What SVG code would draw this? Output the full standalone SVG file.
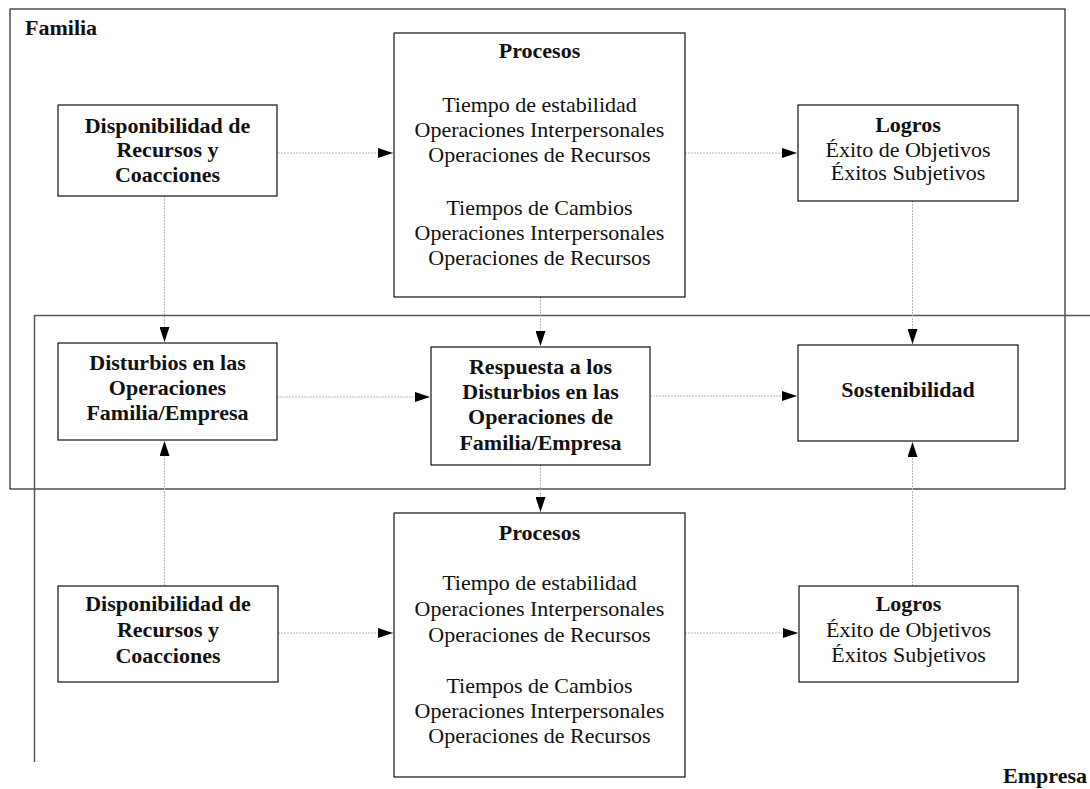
<svg xmlns="http://www.w3.org/2000/svg" width="1090" height="789" viewBox="0 0 1090 789">
  <style>
    .node rect { fill: #ffffff; stroke: #111111; stroke-width: 1.2; }
    .b { font-family: "Liberation Serif", "DejaVu Serif", serif; font-weight: bold; font-size: 22px; fill: #111111; text-anchor: middle; }
    .r { font-family: "Liberation Serif", "DejaVu Serif", serif; font-size: 22px; fill: #111111; text-anchor: middle; }
    .lbl { font-family: "Liberation Serif", "DejaVu Serif", serif; font-weight: bold; font-size: 22px; fill: #111111; }
    .conn line { stroke: #b8b8b8; stroke-width: 1; stroke-dasharray: 2 1; marker-end: url(#head); }
    .frame { fill: none; stroke: #222222; stroke-width: 1.2; }
    .frame2 { fill: none; stroke: #555555; stroke-width: 1.5; }
  </style>
  <defs>
    <marker id="head" viewBox="0 0 15 10" refX="15" refY="5" markerWidth="15" markerHeight="10" markerUnits="userSpaceOnUse" orient="auto">
      <path d="M0,0 L15,5 L0,10 Z" fill="#000000"/>
    </marker>
  </defs>
  <rect width="1090" height="789" fill="#ffffff"/>

  <!-- outer frames -->
  <g id="frame-familia">
    <rect class="frame" x="10" y="9" width="1055" height="480"/>
    <text class="lbl" x="25" y="35">Familia</text>
  </g>
  <g id="frame-empresa">
    <polyline class="frame2" points="1090,315.5 34.5,315.5 34.5,762"/>
    <text class="lbl" x="1087" y="783" text-anchor="end">Empresa</text>
  </g>

  <!-- connectors -->
  <g id="connectors" class="conn">
    <line x1="278" y1="153" x2="393" y2="153"/>
    <line x1="685" y1="153" x2="797" y2="153"/>
    <line x1="164.5" y1="196" x2="164.5" y2="342"/>
    <line x1="540.5" y1="297" x2="540.5" y2="346"/>
    <line x1="912.5" y1="201" x2="912.5" y2="344"/>
    <line x1="277" y1="397" x2="430" y2="397"/>
    <line x1="650" y1="396" x2="797" y2="396"/>
    <line x1="164.5" y1="586" x2="164.5" y2="441"/>
    <line x1="540.5" y1="465" x2="540.5" y2="512"/>
    <line x1="912.5" y1="586" x2="912.5" y2="442"/>
    <line x1="278" y1="633" x2="393" y2="633"/>
    <line x1="685" y1="633" x2="798" y2="633"/>
  </g>

  <!-- Familia row -->
  <g id="disponibilidad-familia" class="node">
    <rect x="58" y="105" width="219" height="91"/>
    <text class="b" x="167.5" y="133">Disponibilidad de</text>
    <text class="b" x="167.5" y="157">Recursos y</text>
    <text class="b" x="167.5" y="182">Coacciones</text>
  </g>
  <g id="procesos-familia" class="node">
    <rect x="394" y="33" width="291" height="264"/>
    <text class="b" x="539.5" y="58">Procesos</text>
    <text class="r" x="539.5" y="112">Tiempo de estabilidad</text>
    <text class="r" x="539.5" y="137">Operaciones Interpersonales</text>
    <text class="r" x="539.5" y="162">Operaciones de Recursos</text>
    <text class="r" x="539.5" y="215">Tiempos de Cambios</text>
    <text class="r" x="539.5" y="240">Operaciones Interpersonales</text>
    <text class="r" x="539.5" y="265">Operaciones de Recursos</text>
  </g>
  <g id="logros-familia" class="node">
    <rect x="798" y="105" width="220" height="96"/>
    <text class="b" x="908" y="132">Logros</text>
    <text class="r" x="908" y="157">Éxito de Objetivos</text>
    <text class="r" x="908" y="180">Éxitos Subjetivos</text>
  </g>

  <!-- shared row -->
  <g id="disturbios" class="node">
    <rect x="58" y="343" width="219" height="97"/>
    <text class="b" x="167.5" y="370">Disturbios en las</text>
    <text class="b" x="167.5" y="395">Operaciones</text>
    <text class="b" x="167.5" y="420">Familia/Empresa</text>
  </g>
  <g id="respuesta" class="node">
    <rect x="431" y="347" width="219" height="118"/>
    <text class="b" x="540.5" y="374">Respuesta a los</text>
    <text class="b" x="540.5" y="399">Disturbios en las</text>
    <text class="b" x="540.5" y="424">Operaciones de</text>
    <text class="b" x="540.5" y="450">Familia/Empresa</text>
  </g>
  <g id="sostenibilidad" class="node">
    <rect x="798" y="345" width="220" height="96"/>
    <text class="b" x="908" y="397">Sostenibilidad</text>
  </g>

  <!-- Empresa row -->
  <g id="disponibilidad-empresa" class="node">
    <rect x="58" y="586" width="220" height="96"/>
    <text class="b" x="168" y="611">Disponibilidad de</text>
    <text class="b" x="168" y="637">Recursos y</text>
    <text class="b" x="168" y="663">Coacciones</text>
  </g>
  <g id="procesos-empresa" class="node">
    <rect x="394" y="513" width="291" height="264"/>
    <text class="b" x="539.5" y="540">Procesos</text>
    <text class="r" x="539.5" y="590">Tiempo de estabilidad</text>
    <text class="r" x="539.5" y="616">Operaciones Interpersonales</text>
    <text class="r" x="539.5" y="642">Operaciones de Recursos</text>
    <text class="r" x="539.5" y="693">Tiempos de Cambios</text>
    <text class="r" x="539.5" y="718">Operaciones Interpersonales</text>
    <text class="r" x="539.5" y="743">Operaciones de Recursos</text>
  </g>
  <g id="logros-empresa" class="node">
    <rect x="799" y="586" width="219" height="96"/>
    <text class="b" x="908.5" y="611">Logros</text>
    <text class="r" x="908.5" y="637">Éxito de Objetivos</text>
    <text class="r" x="908.5" y="662">Éxitos Subjetivos</text>
  </g>
</svg>
